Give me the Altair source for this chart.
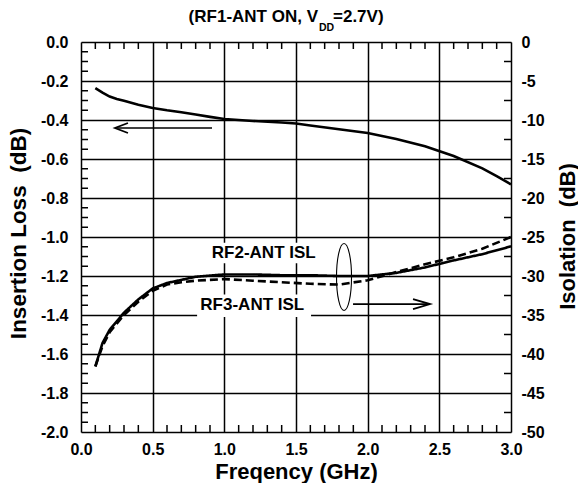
import altair as alt
import pandas as pd

FONT = "Liberation Sans"

# ---------------- data ----------------
freq_il = [0.1, 0.15, 0.2, 0.25, 0.3, 0.4, 0.5, 0.6, 0.7, 0.8, 0.9, 1.0, 1.2, 1.4,
           1.5, 1.6, 1.8, 2.0, 2.2, 2.4, 2.6, 2.8, 2.9, 3.0]
insertion_loss = [-0.237, -0.26, -0.28, -0.292, -0.301, -0.322, -0.338, -0.35, -0.36,
                  -0.372, -0.384, -0.395, -0.405, -0.413, -0.418, -0.428, -0.447,
                  -0.467, -0.497, -0.535, -0.585, -0.648, -0.688, -0.73]

freq_iso = [0.1, 0.15, 0.2, 0.3, 0.4, 0.5, 0.6, 0.7, 0.8, 1.0, 1.2, 1.4, 1.6, 1.8,
            2.0, 2.2, 2.4, 2.6, 2.8, 3.0]
rf2_isl = [-41.6, -38.6, -36.9, -34.7, -33.0, -31.6, -30.9, -30.5, -30.1, -29.8,
           -29.8, -29.9, -29.9, -30.0, -30.0, -29.6, -28.9, -28.0, -27.2, -26.2]
rf3_isl = [-41.6, -39.0, -37.2, -35.0, -33.3, -31.9, -31.1, -30.8, -30.6, -30.4,
           -30.6, -30.8, -31.0, -31.1, -30.55, -29.5, -28.5, -27.6, -26.5, -25.0]

x_ticks = [0.0, 0.5, 1.0, 1.5, 2.0, 2.5, 3.0]
il_ticks = [0.0, -0.2, -0.4, -0.6, -0.8, -1.0, -1.2, -1.4, -1.6, -1.8, -2.0]
iso_ticks = [0, -5, -10, -15, -20, -25, -30, -35, -40, -45, -50]
x_minor = [0.1, 0.2, 0.3, 0.4, 0.6, 0.7, 0.8, 0.9, 1.1, 1.2, 1.3, 1.4, 1.6, 1.7, 1.8,
           1.9, 2.1, 2.2, 2.3, 2.4, 2.6, 2.7, 2.8, 2.9]
il_minor = [-0.05, -0.1, -0.15, -0.25, -0.3, -0.35, -0.45, -0.5, -0.55, -0.65, -0.7,
            -0.75, -0.85, -0.9, -0.95, -1.05, -1.1, -1.15, -1.25, -1.3, -1.35, -1.45,
            -1.5, -1.55, -1.65, -1.7, -1.75, -1.85, -1.9, -1.95]
iso_minor = [-2.5, -7.5, -12.5, -17.5, -22.5, -27.5, -32.5, -37.5, -42.5, -47.5]

# annotations (in frequency / insertion-loss coordinates)
label_text = ["RF2-ANT ISL", "RF3-ANT ISL"]
label_x = [1.275, 1.195]
label_y = [-1.083, -1.347]
box_x = [0.885, 0.81]
box_x2 = [1.665, 1.605]
box_y = [-1.03, -1.295]
box_y2 = [-1.135, -1.41]
arrow_x = [0.237, 1.898]
arrow_x2 = [0.914, 2.435]
arrow_y = [-0.441, -1.344]
ellipse_x = [1.835]
ellipse_y = [-1.205]

W, H = 430, 390

df_il = pd.DataFrame({"f": freq_il, "il": insertion_loss})
df_iso = pd.DataFrame({
    "f": freq_iso * 2,
    "iso": rf2_isl + rf3_isl,
    "s": ["RF2"] * len(freq_iso) + ["RF3"] * len(freq_iso),
})
df_lab = pd.DataFrame({"t": label_text, "x": label_x, "y": label_y,
                       "bx": box_x, "bx2": box_x2, "by": box_y, "by2": box_y2})
df_arrow = pd.DataFrame({"x": arrow_x, "x2": arrow_x2, "y": arrow_y})
df_ell = pd.DataFrame({"x": ellipse_x, "y": ellipse_y})

minus_fix = "replace(format(datum.value, '{fmt}'), '\u2212', '-')"

xscale = alt.Scale(domain=[0, 3], nice=False, zero=False)
ilscale = alt.Scale(domain=[-2, 0], nice=False, zero=False)
isoscale = alt.Scale(domain=[-50, 0], nice=False, zero=False)

x_axis = alt.Axis(values=x_ticks, labelExpr=minus_fix.format(fmt=".1f"), grid=True,
                  gridColor="black", gridWidth=1.5, gridOpacity=1, ticks=False,
                  tickSize=0, domain=False, labelPadding=9, labelFontSize=16,
                  labelOverlap=False, labelFlush=False,
                  labelFont=FONT, labelFontWeight="bold", labelColor="black",
                  title="Freqency (GHz)", titleFont=FONT, titleFontSize=22,
                  titleFontWeight="bold", titleColor="black", titleX=W / 2,
                  titleY=46, titleBaseline="alphabetic", titleAlign="center")

il_axis = alt.Axis(values=il_ticks, labelExpr=minus_fix.format(fmt=".1f"), grid=True,
                   gridColor="black", gridWidth=1.5, gridOpacity=1, ticks=False,
                   tickSize=0, domain=False, labelPadding=13, labelFontSize=16,
                   labelOverlap=False, labelFlush=False,
                   labelFont=FONT, labelFontWeight="bold", labelColor="black",
                   title="Insertion Loss\u00a0 (dB)", titleFont=FONT,
                   titleFontSize=22.5, titleFontWeight="bold", titleColor="black",
                   titleAngle=270, titleX=-56, titleY=H / 2 - 4,
                   titleBaseline="alphabetic", titleAlign="center")

iso_axis = alt.Axis(values=iso_ticks, labelExpr=minus_fix.format(fmt="d"), grid=False,
                    ticks=False, tickSize=0, domain=False, orient="right",
                    labelOverlap=False, labelFlush=False,
                    labelPadding=10, labelFontSize=16, labelFont=FONT,
                    labelFontWeight="bold", labelColor="black",
                    title="Isolation\u00a0 (dB)", titleFont=FONT, titleFontSize=22,
                    titleFontWeight="bold", titleColor="black", titleAngle=270,
                    titleX=63, titleY=H / 2 - 1, titleBaseline="alphabetic",
                    titleAlign="center")


def X(field):
    return alt.X(field, scale=xscale, axis=x_axis)


def YL(field):
    return alt.Y(field, scale=ilscale, axis=il_axis)


def YR(field):
    return alt.Y(field, scale=isoscale, axis=iso_axis)


# ---------------- left (insertion loss) layers ----------------
il_line = alt.Chart(df_il).mark_line(color="black", strokeWidth=2.6).encode(
    x=X("f:Q"), y=YL("il:Q"),
)

boxes = alt.Chart(df_lab).mark_rect(color="white").encode(
    x=X("bx:Q"), x2="bx2:Q", y=YL("by:Q"), y2="by2:Q",
)

labels = alt.Chart(df_lab).mark_text(font=FONT, fontSize=17, fontWeight="bold",
                                     color="black", align="center",
                                     baseline="middle").encode(
    x=X("x:Q"), y=YL("y:Q"), text="t:N"
)

arrows = alt.Chart(df_arrow).mark_rule(color="black", strokeWidth=1.6).encode(
    x=X("x:Q"), x2="x2:Q", y=YL("y:Q")
)

head_left = alt.Chart(df_arrow.iloc[[0]]).mark_point(
    shape="M2.6,-1L0,0L2.6,1", size=100, filled=False, color="black",
    strokeWidth=1.8, opacity=1).encode(x=X("x:Q"), y=YL("y:Q"))
head_right = alt.Chart(df_arrow.iloc[[1]]).mark_point(
    shape="M-3.4,-1L0,0L-3.4,1", size=100, filled=False, color="black",
    strokeWidth=1.8, opacity=1).encode(x=X("x2:Q"), y=YL("y:Q"))

a, k = 0.224, 0.5523
ell_path = (f"M0,-1C{a*k:.4f},-1,{a},{-k},{a},0C{a},{k},{a*k:.4f},1,0,1"
            f"C{-a*k:.4f},1,{-a},{k},{-a},0C{-a},{-k},{-a*k:.4f},-1,0,-1Z")
ellipse = alt.Chart(df_ell).mark_point(
    shape=ell_path, size=4489, filled=False, color="black", strokeWidth=1.1,
    opacity=1).encode(x=X("x:Q"), y=YL("y:Q"))

left_minor = alt.Chart(pd.DataFrame({"v": il_minor})).mark_rule(
    color="black", strokeWidth=1.5).encode(
    y=YL("v:Q"), x=alt.value(0), x2=alt.value(7)
)
top_minor = alt.Chart(pd.DataFrame({"v": x_minor})).mark_rule(
    color="black", strokeWidth=1.5).encode(
    x=X("v:Q"), y=alt.value(0), y2=alt.value(7)
)
bottom_minor = alt.Chart(pd.DataFrame({"v": x_minor})).mark_rule(
    color="black", strokeWidth=1.5).encode(
    x=X("v:Q"), y=alt.value(H - 7), y2=alt.value(H)
)

# title as text pieces (subscript DD)
t_main = alt.Chart(pd.DataFrame({"t": ["(RF1-ANT ON, V"]})).mark_text(
    font=FONT, fontSize=17, fontWeight="bold", color="black", align="right",
    baseline="alphabetic").encode(text="t:N", x=alt.value(237), y=alt.value(-20))
t_sub = alt.Chart(pd.DataFrame({"t": ["DD"]})).mark_text(
    font=FONT, fontSize=10.5, fontWeight="bold", color="black", align="left",
    baseline="alphabetic").encode(text="t:N", x=alt.value(238), y=alt.value(-11))
t_end = alt.Chart(pd.DataFrame({"t": ["=2.7V)"]})).mark_text(
    font=FONT, fontSize=17, fontWeight="bold", color="black", align="left",
    baseline="alphabetic").encode(text="t:N", x=alt.value(252), y=alt.value(-20))

left = alt.layer(il_line, boxes, labels, arrows, head_left, head_right, ellipse,
                 left_minor, top_minor, bottom_minor, t_main, t_sub, t_end)

# ---------------- right (isolation) layers ----------------
iso_lines = alt.Chart(df_iso).mark_line(color="black", strokeWidth=2.6).encode(
    x=X("f:Q"),
    y=YR("iso:Q"),
    strokeDash=alt.StrokeDash("s:N", scale=alt.Scale(domain=["RF2", "RF3"],
                                                     range=[[1, 0], [8, 4]]),
                              legend=None),
    detail="s:N",
)
right_minor = alt.Chart(pd.DataFrame({"v": iso_minor})).mark_rule(
    color="black", strokeWidth=1.5).encode(
    y=YR("v:Q"), x=alt.value(W - 7), x2=alt.value(W)
)
right = alt.layer(iso_lines, right_minor)

chart = alt.layer(left, right).resolve_scale(y="independent").properties(
    width=W, height=H,
    autosize=alt.AutoSizeParams(type="none"),
    padding={"left": 73, "top": 34, "right": 67, "bottom": 51},
).configure_view(stroke="black", strokeWidth=2.6).configure(
    background="white"
)

chart.save("out.html", embed_options={"renderer": "svg", "actions": False})
